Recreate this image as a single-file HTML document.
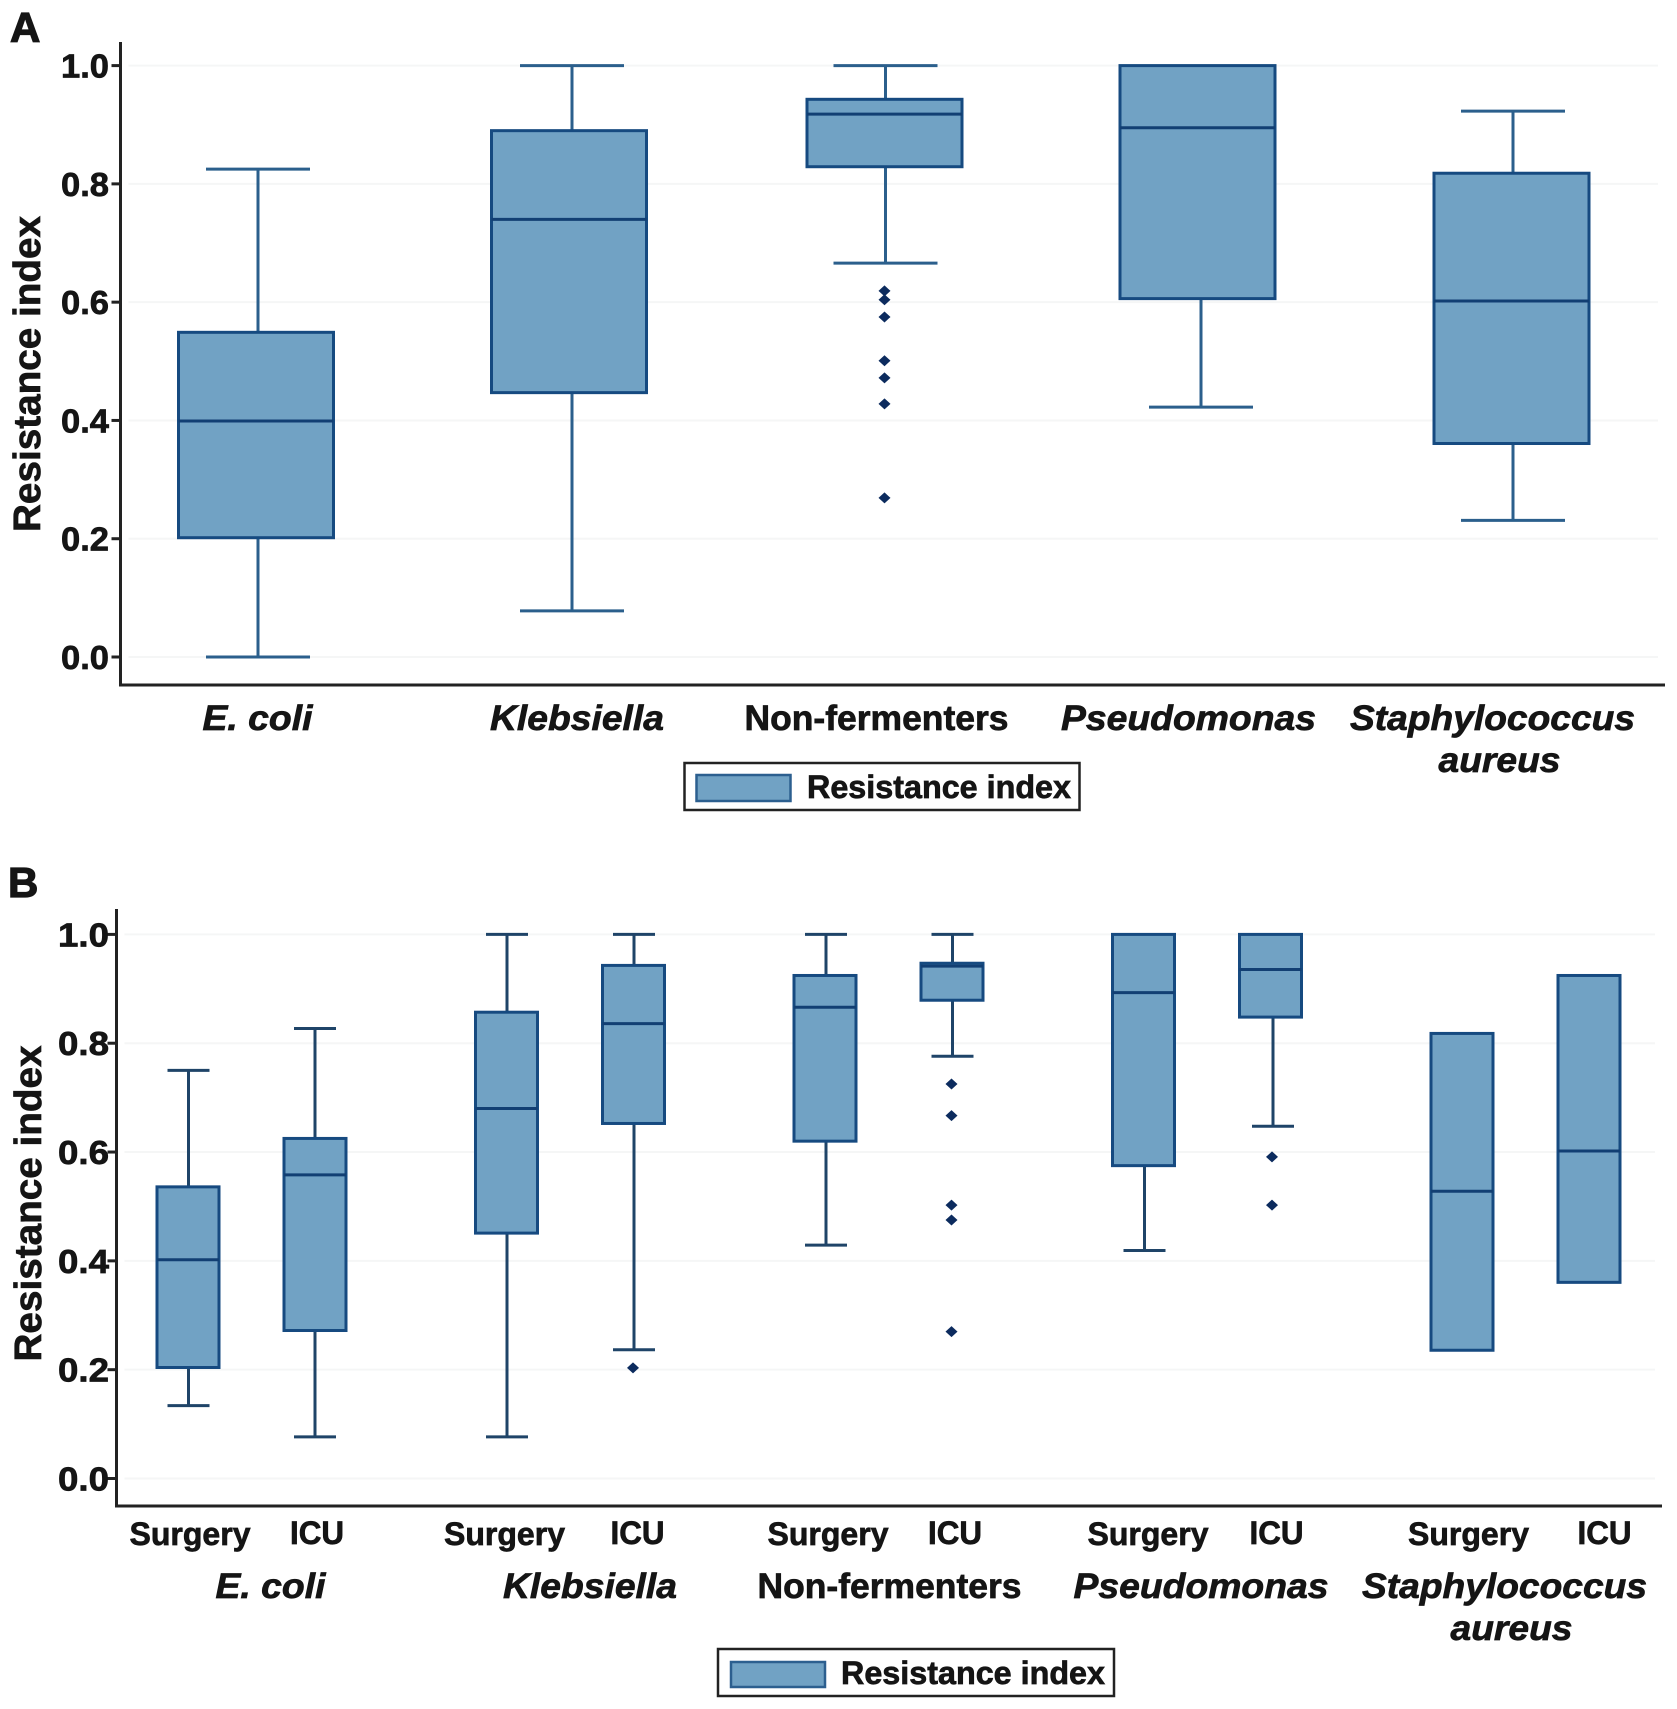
<!DOCTYPE html>
<html lang="en">
<head>
<meta charset="utf-8">
<title>Resistance index box plots</title>
<style>
html,body{margin:0;padding:0;background:#fff}
svg{display:block}
text{font-family:"Liberation Sans",sans-serif;font-weight:bold;fill:#151515;stroke:#151515;stroke-width:.7px}
</style>
</head>
<body>
<svg id="figure" xmlns="http://www.w3.org/2000/svg" width="1677" height="1709" viewBox="0 0 1677 1709">
  <rect x="0" y="0" width="1677" height="1709" fill="#fff"/>
  <g id="panel-a"></g>
  <g id="panel-b"></g>
  <text x="10" y="42" font-size="42" style="stroke-width:1.2px">A</text>
  <text x="8" y="897" font-size="42" style="stroke-width:1.2px">B</text>
  <g>
    <rect x="684.5" y="763" width="395" height="47" fill="#fff" stroke="#222" stroke-width="2.5"/>
    <rect x="696.5" y="775" width="94" height="26" fill="#71a2c4" stroke="#2c5f8f" stroke-width="2.5"/>
    <text x="807" y="798" font-size="32" textLength="264" lengthAdjust="spacingAndGlyphs">Resistance index</text>
  </g>
  <g>
    <rect x="718" y="1649" width="396" height="47" fill="#fff" stroke="#222" stroke-width="2.5"/>
    <rect x="731" y="1662" width="94" height="25" fill="#71a2c4" stroke="#2c5f8f" stroke-width="2.5"/>
    <text x="841" y="1684" font-size="32" textLength="264" lengthAdjust="spacingAndGlyphs">Resistance index</text>
  </g>
</svg>
<script>
// Shared axis values
const tickValues = [0, 0.2, 0.4, 0.6, 0.8, 1.0];
const tickLabels = ['0.0', '0.2', '0.4', '0.6', '0.8', '1.0'];

// Panel A data
const categoriesA = ['E. coli', 'Klebsiella', 'Non-fermenters', 'Pseudomonas', 'Staphylococcus aureus'];
const whiskerLowA = [0, 0.078, 0.666, 0.4225, 0.231];
const q1A = [0.2017, 0.447, 0.829, 0.606, 0.361];
const medianA = [0.399, 0.74, 0.918, 0.895, 0.602];
const q3A = [0.549, 0.89, 0.943, 1.0, 0.818];
const whiskerHighA = [0.825, 1.0, 1.0, 1.0, 0.923];
const outliersA = [[], [], [0.619, 0.604, 0.575, 0.501, 0.472, 0.428, 0.269], [], []];

// Panel B data
const groupsB = ['E. coli', 'Klebsiella', 'Non-fermenters', 'Pseudomonas', 'Staphylococcus aureus'];
const wardsB = ['Surgery', 'ICU'];
const whiskerLowB = [0.134, 0.0765, 0.0765, 0.2367, 0.429, 0.776, 0.419, 0.6475, 0.2357, 0.3605];
const q1B = [0.204, 0.272, 0.451, 0.6525, 0.62, 0.879, 0.575, 0.848, 0.2357, 0.3605];
const medianB = [0.402, 0.558, 0.68, 0.836, 0.866, 0.9416, 0.893, 0.9355, 0.528, 0.602];
const q3B = [0.536, 0.625, 0.857, 0.943, 0.9245, 0.947, 1.0, 1.0, 0.818, 0.9245];
const whiskerHighB = [0.75, 0.827, 1.0, 1.0, 1.0, 1.0, 1.0, 1.0, 0.818, 0.9245];
const outliersB = [[], [], [], [0.2034], [], [0.725, 0.667, 0.5025, 0.475, 0.27], [], [0.591, 0.5025], [], []];

// Axis functions
function yA(v) { return 657 - 591.4 * v; }
function xA(i) { return 257 + 314 * i; }
function yB(v) { return 1478.5 - 544.1 * v; }
function xB(i) { return 188 + 318.5 * Math.floor(i / 2) + 127 * (i % 2); }

const NS = 'http://www.w3.org/2000/svg';
function make(parent, tag, attrs, content) {
  const node = document.createElementNS(NS, tag);
  for (const k in attrs) node.setAttribute(k, attrs[k]);
  if (content !== undefined) node.textContent = content;
  parent.appendChild(node);
  return node;
}
function slug(s) { return s.toLowerCase().replace(/[^a-z0-9]+/g, '-'); }

function drawFrame(panel, name, y, frame) {
  tickValues.forEach(function (v, i) {
    const grid = make(panel, 'line', {x1: frame.axisX + 8, x2: frame.right - 7, y1: y(v), y2: y(v), stroke: '#f5f6f6', 'stroke-width': 2});
    
    
    const tick = make(panel, 'line', {x1: frame.axisX - 9, x2: frame.axisX, y1: y(v), y2: y(v), stroke: '#222', 'stroke-width': 3});
    
    
    const label = make(panel, 'text', {x: 109, y: y(v) + 12, 'font-size': 33, 'text-anchor': 'end', textLength: frame.tickLen, lengthAdjust: 'spacingAndGlyphs'}, tickLabels[i]);
    
    
  });
  const yAxis = make(panel, 'line', {x1: frame.axisX, x2: frame.axisX, y1: frame.top, y2: frame.bottom + 1.5, stroke: '#222', 'stroke-width': 3});
  
  
  const xAxis = make(panel, 'line', {x1: frame.axisX, x2: frame.right, y1: frame.bottom, y2: frame.bottom, stroke: '#222', 'stroke-width': 3});
  
  
  const title = make(panel, 'text', {transform: 'translate(' + frame.titleX + ',' + frame.titleY + ') rotate(-90)', 'font-size': 38, 'text-anchor': 'middle', textLength: 316, lengthAdjust: 'spacingAndGlyphs'}, 'Resistance index');
  
  
}

function drawBox(panel, name, cx, y, stats, style) {
  const hasHigh = stats.high > stats.q3;
  const hasLow = stats.low < stats.q1;
  if (hasHigh) {
    const wh = make(panel, 'line', {x1: cx, x2: cx, y1: y(stats.high), y2: y(stats.q3), stroke: style.whisker, 'stroke-width': 3});
    
    
    const ch = make(panel, 'line', {x1: cx - style.cap, x2: cx + style.cap, y1: y(stats.high), y2: y(stats.high), stroke: style.whisker, 'stroke-width': 3});
    
    
  }
  if (hasLow) {
    const wl = make(panel, 'line', {x1: cx, x2: cx, y1: y(stats.q1), y2: y(stats.low), stroke: style.whisker, 'stroke-width': 3});
    
    
    const cl = make(panel, 'line', {x1: cx - style.cap, x2: cx + style.cap, y1: y(stats.low), y2: y(stats.low), stroke: style.whisker, 'stroke-width': 3});
    
    
  }
  const box = make(panel, 'rect', {x: cx - style.half - style.shift, y: y(stats.q3), width: style.half * 2, height: y(stats.q1) - y(stats.q3), fill: '#71a2c4', stroke: '#164a80', 'stroke-width': 3});
  
  
  const med = make(panel, 'line', {x1: cx - style.half - style.shift, x2: cx + style.half - style.shift, y1: y(stats.median), y2: y(stats.median), stroke: '#123f73', 'stroke-width': 3});
  
  
  stats.outliers.forEach(function (v, j) {
    const dot = make(panel, 'path', {d: 'M' + (cx - 1 - 6) + ' ' + y(v) + 'L' + (cx - 1) + ' ' + (y(v) - 5.5) + 'L' + (cx - 1 + 6) + ' ' + y(v) + 'L' + (cx - 1) + ' ' + (y(v) + 5.5) + 'Z', fill: '#0c2b5e'});
    
    
  });
}

function drawCategoryLabel(panel, name, text, x, baseline, len, italic) {
  const t = make(panel, 'text', {x: x, y: baseline, 'font-size': 35, 'text-anchor': 'middle', 'font-style': italic ? 'italic' : 'normal', textLength: len, lengthAdjust: 'spacingAndGlyphs'}, text);
  
  
}

// Layout-only: label and mark placement adjustments, not data
const labelLayoutA = [[257.5, 110], [577, 174], [876.5, 264], [1188.5, 255], [1492.5, 285]];
const labelLayoutB = [[270.5, 110], [590, 174], [889.5, 264], [1201, 255], [1504.5, 285]];
const wardNudgeB = [2, 2, -2, 4, 3, 3, 4.5, 6, 6.5, 15.5];
const markNudgeA = [1, 1, 0.5, 2, 0];
const boxShiftA = [2, 3, 1, 3.5, 1.5];
const markNudgeB = [0.5, 0, 0.5, 0.5, 1, 0.5, 1, 2.5, 0, 2];

const panelA = document.getElementById('panel-a');
drawFrame(panelA, 'panel-a', yA, {axisX: 120.5, top: 42, bottom: 685, right: 1665, tickLen: 48, titleX: 40, titleY: 374});
categoriesA.forEach(function (c, i) {
  drawBox(panelA, 'panel-a-' + slug(c), xA(i) + markNudgeA[i], yA, {
    low: whiskerLowA[i], q1: q1A[i], median: medianA[i], q3: q3A[i], high: whiskerHighA[i], outliers: outliersA[i]
  }, {half: 77.5, cap: 52, whisker: '#2b5f8c', shift: boxShiftA[i]});
  const layout = labelLayoutA[i];
  const parts = c === 'Staphylococcus aureus' ? ['Staphylococcus', 'aureus'] : [c];
  drawCategoryLabel(panelA, 'panel-a-x-label-' + slug(parts[0]), parts[0], layout[0], 730, layout[1], c !== 'Non-fermenters');
  if (parts[1]) drawCategoryLabel(panelA, 'panel-a-x-label-' + slug(parts[1]), parts[1], layout[0] + 7, 772, 122, true);
});

const panelB = document.getElementById('panel-b');
drawFrame(panelB, 'panel-b', yB, {axisX: 116.5, top: 909, bottom: 1506, right: 1662, tickLen: 51, titleX: 41, titleY: 1203.5});
q1B.forEach(function (_, i) {
  const group = groupsB[Math.floor(i / 2)];
  const ward = wardsB[i % 2];
  const name = 'panel-b-' + slug(group) + '-' + slug(ward);
  drawBox(panelB, name, xB(i) + markNudgeB[i], yB, {
    low: whiskerLowB[i], q1: q1B[i], median: medianB[i], q3: q3B[i], high: whiskerHighB[i], outliers: outliersB[i]
  }, {half: 31, cap: 21, whisker: '#1f4468', shift: markNudgeB[i]});
  const wl = make(panelB, 'text', {x: xB(i) + wardNudgeB[i], y: i % 2 ? 1544 : 1545, 'font-size': 32, 'text-anchor': 'middle', textLength: i % 2 ? 54 : 121, lengthAdjust: 'spacingAndGlyphs'}, ward);
  
  
});
groupsB.forEach(function (c, i) {
  const layout = labelLayoutB[i];
  const parts = c === 'Staphylococcus aureus' ? ['Staphylococcus', 'aureus'] : [c];
  drawCategoryLabel(panelB, 'panel-b-group-label-' + slug(parts[0]), parts[0], layout[0], 1598, layout[1], c !== 'Non-fermenters');
  if (parts[1]) drawCategoryLabel(panelB, 'panel-b-group-label-' + slug(parts[1]), parts[1], layout[0] + 7, 1640, 122, true);
});
</script>
</body>
</html>
